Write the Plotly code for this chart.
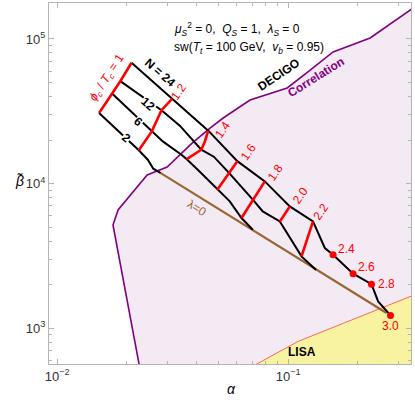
import math
import plotly.graph_objects as go

# correlation (DECIGO) region boundary
corr_alpha = [0.0233, 0.01746, 0.01836, 0.0207, 0.02454, 0.02994, 0.03475, 0.03841,
              0.04592, 0.05233, 0.06843, 0.0991, 0.1246, 0.1566, 0.2265, 0.36]
corr_beta = [440, 5164, 6561, 8318, 11450, 13000, 16250, 19050,
             24200, 28400, 37840, 45800, 60900, 81300, 101600, 170000]

# LISA region boundary
lisa_alpha = [0.0683, 0.1105, 0.36]
lisa_beta = [531, 808, 1720]

# constant-N curves
n24_alpha = [0.0210, 0.03154, 0.04513, 0.0603, 0.0793, 0.1017, 0.1282, 0.1442, 0.1566, 0.1911, 0.2296, 0.2453, 0.2775]
n24_beta = [68500, 38600, 23200, 14270, 10340, 6942, 5466, 3578, 3216, 2376, 2010, 1528, 1222]
n12_alpha = [0.01878, 0.02831, 0.03398, 0.04209, 0.04769, 0.05536, 0.07035, 0.07768, 0.0921, 0.1143, 0.1322]
n12_beta = [51050, 32170, 25120, 17130, 15330, 11880, 7725, 6412, 5466, 3130, 2520]
n6_alpha = [0.01734, 0.0257, 0.02868, 0.03455, 0.03642, 0.04064, 0.0449, 0.04938, 0.05591, 0.06284, 0.07035]
n6_beta = [41830, 22940, 19550, 15820, 14730, 12460, 10620, 9060, 7517, 5770, 4789]
n2_alpha = [0.0152, 0.02258, 0.0247, 0.02609, 0.02812]
n2_beta = [30750, 16990, 14610, 12660, 11790]

# lambda = 0 line
lam0_alpha = [0.02812, 0.2667]
lam0_beta = [11790, 1270]

# constant phi_c/T_c lines
phi_names = ["1", "1.2", "1.4", "1.6", "1.8", "2.0", "2.2"]
phi_alpha = [
    [0.0152, 0.01734, 0.01878, 0.0210],
    [0.02258, 0.0257, 0.02831, 0.03154],
    [0.03642, 0.04025, 0.04209, 0.04358, 0.04513],
    [0.04938, 0.05536, 0.0603],
    [0.06284, 0.07035, 0.0793],
    [0.0921, 0.1017],
    [0.1143, 0.1282],
]
phi_beta = [
    [30750, 41830, 51050, 68500],
    [16990, 22940, 32170, 38600],
    [14730, 16330, 17130, 19460, 23200],
    [9060, 11880, 14270],
    [5770, 7725, 10340],
    [5466, 6942],
    [3130, 5466],
]

# red dots on N = 24
dot_names = ["2.4", "2.6", "2.8", "3.0"]
dot_alpha = [0.1566, 0.1911, 0.2296, 0.2775]
dot_beta = [3216, 2376, 2010, 1222]

RED = "#ff0000"
FONT = "Liberation Sans"
lg = math.log10

fig = go.Figure()
fig.add_trace(go.Scatter(x=corr_alpha + [1.0, 1.0], y=corr_beta + [corr_beta[-1], corr_beta[0]],
                         fill="toself", fillcolor="#f4eaf4", mode="none", hoverinfo="skip"))
fig.add_trace(go.Scatter(x=corr_alpha, y=corr_beta, mode="lines", line={"color": "#800080", "width": 1.6}))
fig.add_trace(go.Scatter(x=lisa_alpha + [1.0, 1.0], y=lisa_beta + [lisa_beta[-1], lisa_beta[0]],
                         fill="toself", fillcolor="#f8f3a0", mode="none", hoverinfo="skip"))
fig.add_trace(go.Scatter(x=lisa_alpha, y=lisa_beta, mode="lines", line={"color": "#ff6666", "width": 1}))
fig.add_trace(go.Scatter(x=lam0_alpha, y=lam0_beta, mode="lines", line={"color": "#996633", "width": 2.2}))

for xs, ys in [(n24_alpha, n24_beta), (n12_alpha, n12_beta), (n6_alpha, n6_beta), (n2_alpha, n2_beta)]:
    fig.add_trace(go.Scatter(x=xs, y=ys, mode="lines", line={"color": "black", "width": 2}))
for xs, ys in zip(phi_alpha, phi_beta):
    fig.add_trace(go.Scatter(x=xs, y=ys, mode="lines", line={"color": RED, "width": 2.6}))
fig.add_trace(go.Scatter(x=dot_alpha, y=dot_beta, mode="markers", marker={"color": RED, "size": 7}))

ann = []
# phi labels at the top end of each red line
phi_shift = [None, (6, 7), (14, 1), (11, 9), (11, 9), (11, 11), (8, 9)]
for i in range(1, len(phi_names)):
    ann.append(dict(x=lg(phi_alpha[i][-1]), y=lg(phi_beta[i][-1]), text=phi_names[i], showarrow=False,
                    xshift=phi_shift[i][0], yshift=phi_shift[i][1], textangle=-55,
                    font={"color": RED, "size": 12, "family": FONT}))
ann.append(dict(x=lg(phi_alpha[0][2]), y=lg(phi_beta[0][2]), xshift=-13, yshift=3, textangle=-57, showarrow=False,
                text="<i>ϕ<sub>c</sub></i> / <i>T<sub>c</sub></i> = 1", font={"color": RED, "size": 12, "family": FONT}))
# dot labels
dot_shift = [(3, 6), (3, 7), (5, 0), (0, -11)]
for name, a, b, (dx, dy) in zip(dot_names, dot_alpha, dot_beta, dot_shift):
    ann.append(dict(x=lg(a), y=lg(b), text=name, showarrow=False, xshift=dx, yshift=dy,
                    xanchor="center" if dx == 0 else "left",
                    font={"color": RED, "size": 12, "family": FONT}))
# N labels
for text, a, b in [("2", 0.01993, 20750), ("6", 0.02258, 26780), ("12", 0.0247, 35390)]:
    ann.append(dict(x=lg(a), y=lg(b), text=f"<b>{text}</b>", showarrow=False, textangle=41, bgcolor="white",
                    borderpad=0, font={"color": "black", "size": 12, "family": FONT}))
ann.append(dict(x=lg(0.02803), y=lg(58170), text="<b>N = 24</b>", showarrow=False, textangle=41,
                font={"color": "black", "size": 12, "family": FONT}))
ann.append(dict(x=lg(0.0905), y=lg(56620), text="<b>DECIGO</b>", showarrow=False, textangle=-34,
                font={"color": "black", "size": 12, "family": FONT}))
ann.append(dict(x=lg(0.1324), y=lg(54400), text="<b>Correlation</b>", showarrow=False, textangle=-32,
                font={"color": "#800080", "size": 12, "family": FONT}))
ann.append(dict(x=lg(0.1143), y=lg(678), text="<b>LISA</b>", showarrow=False,
                font={"color": "black", "size": 12, "family": FONT}))
ann.append(dict(x=lg(0.04025), y=lg(6800), text="λ=0", showarrow=False, textangle=32,
                font={"color": "#996633", "size": 12, "family": FONT}))
# header text
ann.append(dict(xref="paper", yref="paper", x=0.34, y=0.958, xanchor="left", showarrow=False,
                text="<i>μ<sub>S</sub></i><sup>2</sup> = 0,  <i>Q<sub>S</sub></i> = 1,  <i>λ<sub>S</sub></i> = 0",
                font={"color": "black", "size": 12, "family": FONT}))
ann.append(dict(xref="paper", yref="paper", x=0.34, y=0.903, xanchor="left", showarrow=False,
                text="sw(<i>T<sub>t</sub></i> = 100 GeV,  <i>v<sub>b</sub></i> = 0.95)",
                font={"color": "black", "size": 12, "family": FONT}))
# axis titles
ann.append(dict(xref="paper", yref="paper", x=0.5055, y=-0.097, showarrow=False, text="<i>α</i>",
                font={"color": "black", "size": 14, "family": FONT}))
ann.append(dict(xref="paper", yref="paper", x=-0.0994, y=0.507, showarrow=False, text="<i>β\u0303</i>",
                font={"color": "black", "size": 14, "family": FONT}))

frame = "#b5b5b5"
minor_x = [m * 10.0 ** e for e in (-3, -2, -1) for m in range(2, 10)]
minor_y = [m * 10.0 ** e for e in (2, 3, 4, 5) for m in range(2, 10)]
axis_common = dict(type="log", showline=True, linecolor=frame, linewidth=1, mirror="allticks", ticks="inside",
                   ticklen=5, tickcolor=frame, showgrid=False, zeroline=False, automargin=False,
                   tickfont={"size": 13, "color": "#333333", "family": FONT})
fig.update_layout(
    width=415, height=410, margin={"l": 49, "r": 4, "t": 3, "b": 46, "autoexpand": False},
    plot_bgcolor="white", paper_bgcolor="white", showlegend=False, annotations=ann,
    xaxis=dict(axis_common, range=[-2.035, -0.468], tickvals=[0.01, 0.1],
               ticktext=["10<sup>−2</sup>", "10<sup>−1</sup>"],
               minor=dict(tickmode="array", tickvals=minor_x, ticks="inside", ticklen=3, tickcolor=frame)),
    yaxis=dict(axis_common, range=[2.751, 5.249], tickvals=[1e3, 1e4, 1e5],
               ticktext=["10<sup>3</sup>", "10<sup>4</sup>", "10<sup>5</sup>"],
               minor=dict(tickmode="array", tickvals=minor_y, ticks="inside", ticklen=3, tickcolor=frame)),
)
fig.write_html("out.html", config={"displayModeBar": False},
               post_script="document.body.style.margin='0px';")
